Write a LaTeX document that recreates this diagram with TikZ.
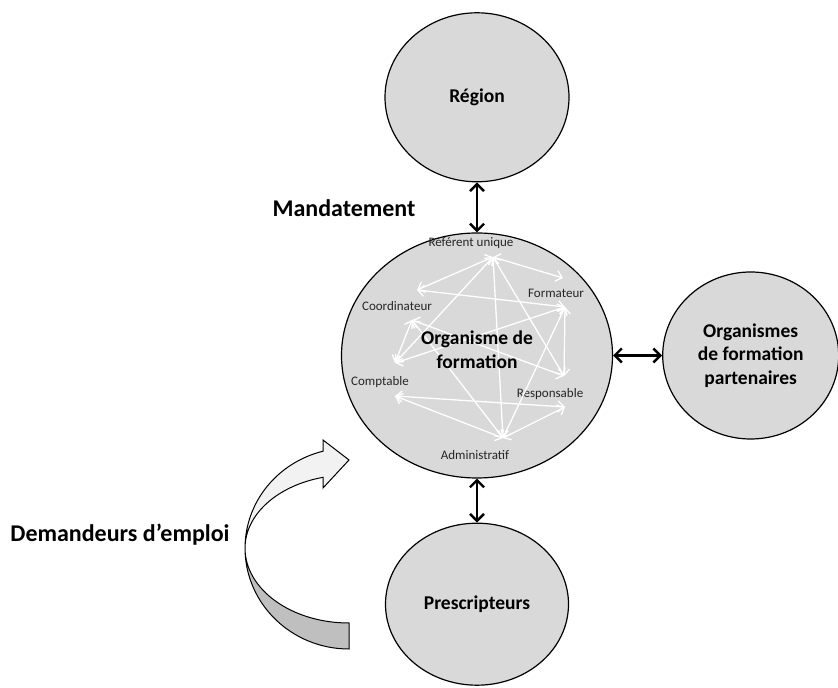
\documentclass[tikz,border=0pt]{standalone}
\usepackage{fontspec}
\setmainfont{Carlito}
\usetikzlibrary{positioning,shapes.geometric,arrows.meta}
\definecolor{bg1}{RGB}{217,217,217}
\definecolor{bg2}{RGB}{242,242,242}
\definecolor{bg3}{RGB}{191,191,191}

\begin{document}
\begin{tikzpicture}[
    x=1pt, y=1pt,
    e/.style={
        ellipse, inner sep=0pt, align=center,
        fill=bg1, draw=black, line width=1.2pt,
        font=\bfseries\fontsize{19.5}{23.5}\selectfont
    },
    ba/.style={
        line width=2.4pt, {Straight Barb[length=7pt,width=14pt]}-{Straight Barb[length=7pt,width=14pt]}
    },
    w/.style={
        white, line width=1.3pt, {Straight Barb[length=6pt,width=11pt]}-{Straight Barb[length=6pt,width=11pt]}
    },
    sm/.style={font=\fontsize{13}{15}\selectfont, text=black!85},
    lbl/.style={anchor=base, font=\bfseries\fontsize{24}{28}\selectfont}
]
\useasboundingbox (0,0) rectangle (838,688);

\node [e, minimum width=271pt, minimum height=245pt] (org) at (477,332.5) {};
\node [e, minimum width=184pt, minimum height=169pt, above=50pt of org] (reg) {Région};
\node [e, minimum width=183pt, minimum height=162pt, below=44pt of org] (pre) {Prescripteurs};
\node [e, minimum width=176pt, minimum height=167pt, right=49pt of org] (par) {Organismes\\de formation\\partenaires};

\draw (reg) edge [ba] (org);
\draw (org) edge [ba] (pre);
\draw (org) edge [ba] (par);

\node [lbl] (mand) at (344,471) {Mandatement};
\node [lbl] (dem) at (120,146) {Demandeurs d’emploi};

% roles inside the training body
\node [sm] (ref) at (471,445) {Référent unique};
\node [sm] (for) at (556,395) {Formateur};
\node [sm] (coo) at (397,382) {Coordinateur};
\node [sm] (com) at (380,306) {Comptable};
\node [sm] (res) at (550,294) {Responsable};
\node [sm] (adm) at (475,233) {Administratif};

\coordinate (r) at (493,431);
\coordinate (f1) at (563,410);
\coordinate (f2) at (565,381);
\coordinate (c1) at (417,398);
\coordinate (c2) at (412,368);
\coordinate (p1) at (395,325);
\coordinate (p2) at (395,292);
\coordinate (s1) at (564,312);
\coordinate (s2) at (565,281);
\coordinate (a) at (503,250);

\draw (r) edge [w] (f1);
\draw (r) edge [w] (c1);
\draw (r) edge [w] (p1);
\draw (r) edge [w] (s1);
\draw (r) edge [w] (a);
\draw (f2) edge [w] (c1);
\draw (f2) edge [w] (p1);
\draw (f2) edge [w] (s1);
\draw (f2) edge [w] (a);
\draw (c2) edge [w] (p1);
\draw (c2) edge [w] (s1);
\draw (c2) edge [w] (a);
\draw (p2) edge [w] (s2);
\draw (p2) edge [w] (a);
\draw (s2) edge [w] (a);

\node [align=center, font=\bfseries\fontsize{19.5}{24}\selectfont] (orgl) at (477,338) {Organisme de\\formation};

% curved arrow
\draw [fill=bg3, line width=1pt] (245,140)
    arc [start angle=180, end angle=270, x radius=104, y radius=101]
    -- (349,65)
    arc [start angle=270, end angle=180, x radius=104, y radius=75] -- cycle;
\draw [fill=bg2, line width=1pt, line join=miter] (323,236.8)
    arc [start angle=104.5, end angle=180, x radius=104, y radius=100]
    arc [start angle=180, end angle=104.5, x radius=104, y radius=73]
    -- (323,200) -- (349,228) -- (323,248) -- cycle;

\end{tikzpicture}
\end{document}
